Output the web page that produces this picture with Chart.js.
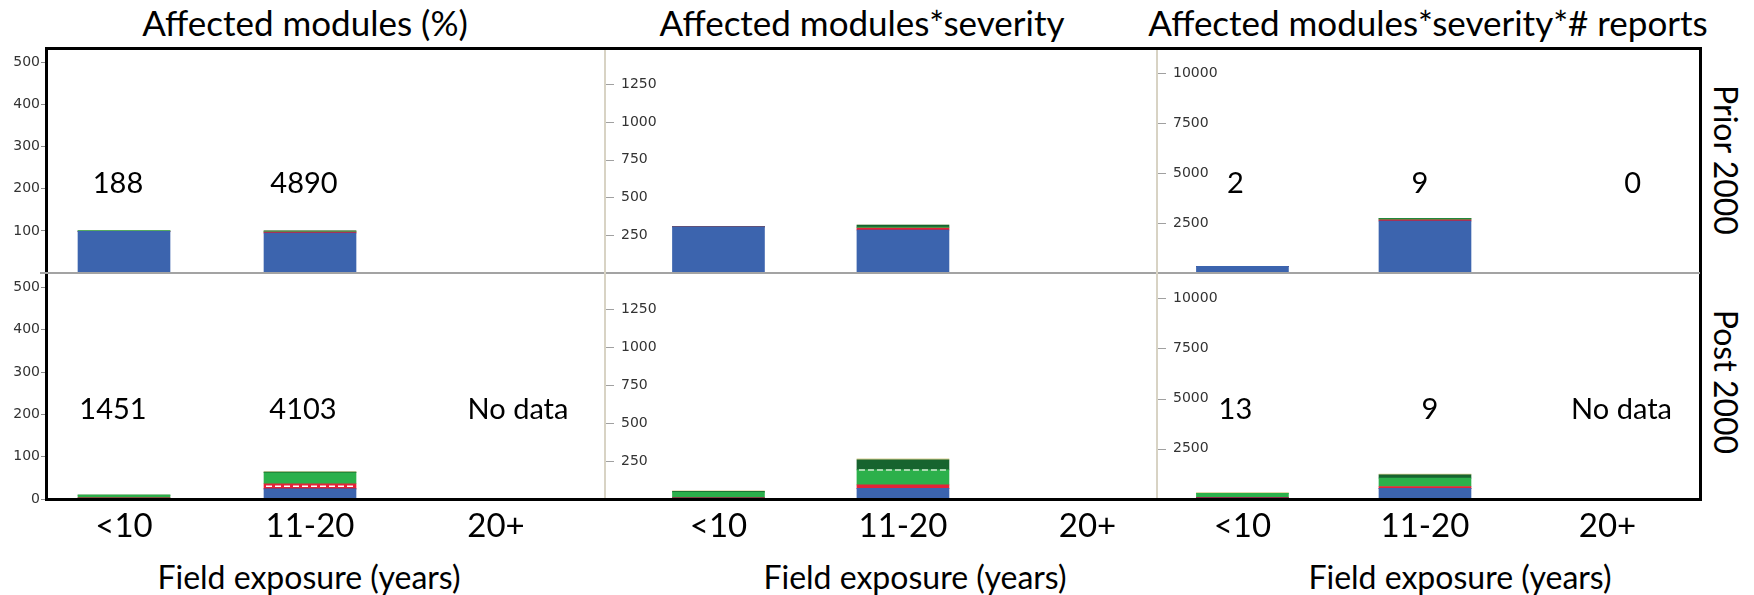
<!DOCTYPE html>
<html>
<head>
<meta charset="utf-8">
<title>Affected modules by field exposure</title>
<script src="https://cdn.jsdelivr.net/npm/chart.js@4.4.1/dist/chart.umd.min.js"></script>
<style>
  html, body { margin: 0; padding: 0; background: #fff; }
  #fig { position: relative; width: 1754px; height: 595px; overflow: hidden; font-family: Lato, "Open Sans", sans-serif; color: #000; }
  #fig canvas { position: absolute; }
  .lbl { position: absolute; white-space: nowrap; line-height: 1; transform: translate(-50%, -50%); }
  .rot { transform: translate(-50%, -50%) rotate(90deg); }
  .rule { position: absolute; z-index: 2; }
</style>
</head>
<body>
<div id="fig">
  <div class="lbl" style="left:305px; top:22px; font-size:35px;">Affected modules (%)</div>
  <div class="lbl" style="left:862px; top:22px; font-size:35px;">Affected modules*severity</div>
  <div class="lbl" style="left:1428px; top:22px; font-size:35px;">Affected modules*severity*# reports</div>

  <div class="lbl" style="left:309px; top:577px; font-size:32px;">Field exposure (years)</div>
  <div class="lbl" style="left:915px; top:577px; font-size:32px;">Field exposure (years)</div>
  <div class="lbl" style="left:1460px; top:577px; font-size:32px;">Field exposure (years)</div>

  <div class="lbl rot" style="left:1726px; top:160px; font-size:32px;">Prior 2000</div>
  <div class="lbl rot" style="left:1726px; top:382px; font-size:32px;">Post 2000</div>

  <!-- trellis frame -->
  <div class="rule" style="left:45px; top:47px; width:1657px; height:3px; background:#000;"></div>
  <div class="rule" style="left:45px; top:498px; width:1657px; height:3px; background:#000;"></div>
  <div class="rule" style="left:45px; top:47px; width:3px; height:454px; background:#000;"></div>
  <div class="rule" style="left:1699px; top:47px; width:3px; height:454px; background:#000;"></div>
  <div class="rule" style="left:40px; top:272px; width:1660px; height:2px; background:#a3a3a3;"></div>
  <div class="rule" style="left:604px; top:50px; width:2px; height:448px; background:#d8d3c4;"></div>
  <div class="rule" style="left:1156px; top:50px; width:2px; height:448px; background:#d8d3c4;"></div>
</div>

<script>
const categories = ['<10', '11-20', '20+'];

// stack segments, bottom to top
const segmentColors = ['#3c64ae', '#7d1d4e', '#e42238', '#2cb04b', '#17642f', '#d7cd8f'];

// each inner array is one segment across <10, 11-20, 20+
const pctPrior = [
  [99, 95, 0],
  [0, 0, 0],
  [0, 2, 0],
  [1, 1.5, 0],
  [0, 1.5, 0],
  [0, 0, 0],
];
const pctPost = [
  [0, 24, 0],
  [2, 0, 0],
  [1, 12, 0],
  [6, 26, 0],
  [0.5, 1.5, 0],
  [0, 1.5, 0],
];
const sevPrior = [
  [305, 285, 0],
  [0, 0, 0],
  [0, 13, 0],
  [2, 6, 0],
  [0, 14, 0],
  [0, 0, 0],
];
const sevPost = [
  [0, 71, 0],
  [7, 0, 0],
  [0, 22, 0],
  [38, 99, 0],
  [6, 66, 0],
  [3, 7, 0],
];
const repPrior = [
  [335, 2600, 0],
  [0, 0, 0],
  [0, 60, 0],
  [0, 50, 0],
  [0, 25, 0],
  [0, 0, 0],
];
const repPost = [
  [0, 530, 0],
  [65, 0, 0],
  [0, 90, 0],
  [220, 420, 0],
  [0, 165, 0],
  [30, 30, 0],
];

// counts printed over each bin
const nPctPrior = ['188', '4890', ''];
const nPctPost = ['1451', '4103', 'No data'];
const nRepPrior = ['2', '9', '0'];
const nRepPost = ['13', '9', 'No data'];

const pctTicks = [0, 100, 200, 300, 400, 500];
const sevTicks = [250, 500, 750, 1000, 1250];
const repTicks = [2500, 5000, 7500, 10000];

// sample counts drawn at a fixed height inside the plot
const countLabels = {
  id: 'countLabels',
  afterDraw(chart, args, opts) {
    if (!opts.text) return;
    const { ctx, chartArea, scales } = chart;
    const y = chartArea.top + chartArea.height * 0.605;
    ctx.save();
    ctx.font = '29px Lato';
    ctx.fillStyle = '#000';
    ctx.textAlign = 'center';
    ctx.textBaseline = 'middle';
    opts.text.forEach((t, i) => {
      if (t) ctx.fillText(t, scales.x.getPixelForValue(i) + (opts.dx ? opts.dx[i] : 0), y);
    });
    ctx.restore();
  },
};

// dashed rule across one segment of the chosen bins
const segmentDash = {
  id: 'segmentDash',
  afterDatasetsDraw(chart, args, opts) {
    if (opts.series === undefined) return;
    const { ctx } = chart;
    ctx.save();
    ctx.strokeStyle = opts.color;
    ctx.lineWidth = 1.5;
    ctx.setLineDash([6, 3]);
    chart.getDatasetMeta(opts.series).data.forEach((bar, i) => {
      if (!opts.bins.includes(i)) return;
      const y = opts.at === 'mid' ? (bar.y + bar.base) / 2 : bar.y;
      ctx.beginPath();
      ctx.moveTo(bar.x - bar.width / 2 + 2, y);
      ctx.lineTo(bar.x + bar.width / 2 - 2, y);
      ctx.stroke();
    });
    ctx.restore();
  },
};

// short tick marks on the inside of the axis (labels are mirrored)
const innerTicks = {
  id: 'innerTicks',
  afterDraw(chart, args, opts) {
    if (!opts.len) return;
    const { ctx, chartArea, scales } = chart;
    ctx.save();
    ctx.strokeStyle = '#a0a0a0';
    ctx.lineWidth = 1;
    scales.y.ticks.forEach((t) => {
      const y = Math.round(scales.y.getPixelForValue(t.value)) + 0.5;
      ctx.beginPath();
      ctx.moveTo(chartArea.left + 1, y);
      ctx.lineTo(chartArea.left + opts.len, y);
      ctx.stroke();
    });
    ctx.restore();
  },
};

Chart.register(countLabels, segmentDash, innerTicks);

const rows = [
  { top: 48, height: 225, plotH: 225, bottom: false },
  { top: 273, height: 322, plotH: 226, bottom: true },
];

// xMin/xMax place the bins inside each panel
const columns = [
  {
    left: 0, width: 605, axisW: 47, xMin: -0.414, xMax: 2.586, yMax: 534,
    ticks: pctTicks, mirror: false, data: [pctPrior, pctPost],
    counts: [nPctPrior, nPctPost], countDx: [[-6, -6, 0], [-11, -7, 22]],
    dash: [false, { series: 2, bins: [1], at: 'mid', color: '#ffffff' }],
  },
  {
    left: 605, width: 552, axisW: 0, xMin: -0.615, xMax: 2.377, yMax: 1490,
    ticks: sevTicks, mirror: true, data: [sevPrior, sevPost],
    counts: [null, null], countDx: [null, null],
    dash: [false, { series: 3, bins: [1], at: 'top', color: '#d2ecd2' }],
  },
  {
    left: 1157, width: 542, axisW: 0, xMin: -0.468, xMax: 2.501, yMax: 11250,
    ticks: repTicks, mirror: true, data: [repPrior, repPost],
    counts: [nRepPrior, nRepPost], countDx: [[-7, -5, 25], [-7, 5, 14]],
    dash: [false, false],
  },
];

const fig = document.getElementById('fig');

function drawPanel(col, r) {
  const row = rows[r];
  const canvas = document.createElement('canvas');
  canvas.width = col.width;
  canvas.height = row.height;
  Object.assign(canvas.style, {
    left: col.left + 'px', top: row.top + 'px',
    width: col.width + 'px', height: row.height + 'px',
  });
  fig.appendChild(canvas);

  new Chart(canvas, {
    type: 'bar',
    data: {
      datasets: col.data[r].map((seg, s) => ({
        data: seg.map((v, i) => ({ x: i, y: v })),
        backgroundColor: segmentColors[s],
        borderWidth: 0,
        barThickness: 92,
      })),
    },
    options: {
      responsive: false,
      animation: false,
      events: [],
      layout: { padding: 0 },
      plugins: {
        legend: { display: false },
        tooltip: { enabled: false },
        countLabels: col.counts[r] ? { text: col.counts[r], dx: col.countDx[r] } : false,
        segmentDash: col.dash[r],
        innerTicks: col.mirror ? { len: 9 } : false,
      },
      scales: {
        x: {
          type: 'linear',
          stacked: true,
          offset: false,
          min: col.xMin,
          max: col.xMax,
          display: row.bottom,
          grid: { display: false, drawTicks: false },
          border: { display: false },
          afterBuildTicks: (ax) => { ax.ticks = categories.map((c, i) => ({ value: i })); },
          afterFit: (ax) => { ax.height = row.height - row.plotH; ax.paddingLeft = 0; ax.paddingRight = 0; },
          ticks: {
            callback: (v) => categories[v],
            font: { family: 'Lato', size: 33 },
            color: '#000',
            padding: 8,
            maxRotation: 0,
            autoSkip: false,
          },
        },
        y: {
          stacked: true,
          min: 0,
          max: col.yMax,
          afterBuildTicks: (ax) => { ax.ticks = col.ticks.map((v) => ({ value: v })); },
          afterFit: (ax) => { ax.width = col.axisW; ax.paddingTop = 0; ax.paddingBottom = 0; },
          grid: { display: !col.mirror, drawOnChartArea: false, drawTicks: true, tickLength: 6, color: '#8c8c8c' },
          border: { display: false },
          ticks: {
            mirror: col.mirror,
            padding: col.mirror ? 16 : 1,
            font: { family: 'DejaVu Sans', size: 14 },
            color: '#333',
            callback: (v) => (v === 0 && !row.bottom ? '' : v),
          },
        },
      },
    },
  });
}

columns.forEach((col) => rows.forEach((row, r) => drawPanel(col, r)));
</script>
</body>
</html>
